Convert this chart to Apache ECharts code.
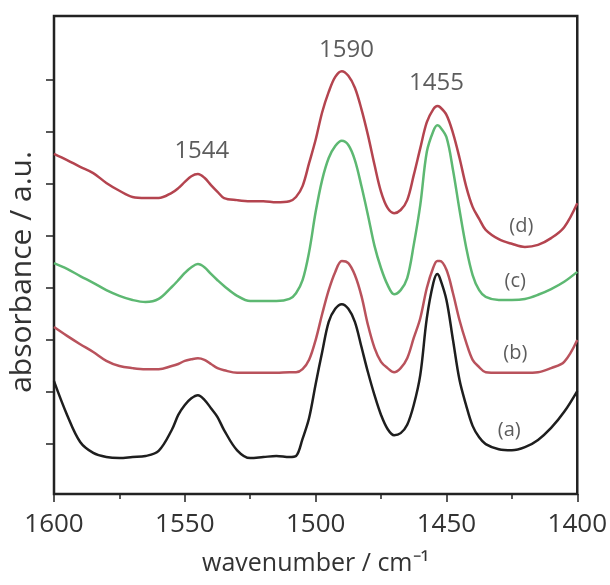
<!DOCTYPE html>
<html>
<head>
<meta charset="utf-8">
<script src="https://cdn.jsdelivr.net/npm/echarts@6/dist/echarts.min.js"></script>
<style>
html,body{margin:0;padding:0;background:#fff;}
#chart{width:610px;height:585px;}
</style>
</head>
<body>
<div id="chart"></div>
<script>
const wavenumbers = [1600,1595,1590,1585,1580,1575,1570,1565,1560,1555,1552.5,1550,1547.5,1545,1542.5,1540,1537.5,1535,1530,1525,1520,1515,1510,1507.5,1505,1502.5,1500,1497.5,1495,1492.5,1490,1487.5,1485,1482.5,1480,1477.5,1475,1472.5,1470,1467.5,1465,1462.5,1460,1457.5,1455,1453.5,1452.5,1450,1447.5,1445,1442.5,1440,1437.5,1435,1430,1425,1420,1415,1410,1405,1400];

const curveA = [1.21,0.56,0.04,-0.17,-0.25,-0.27,-0.25,-0.23,-0.13,0.27,0.56,0.75,0.88,0.94,0.85,0.69,0.52,0.27,-0.12,-0.27,-0.25,-0.23,-0.25,-0.23,0.10,0.50,1.15,1.77,2.35,2.60,2.69,2.60,2.35,1.87,1.38,0.94,0.56,0.29,0.17,0.21,0.37,0.75,1.33,2.42,3.10,3.27,3.19,2.77,2.00,1.23,0.75,0.35,0.13,0.00,-0.10,-0.12,-0.06,0.08,0.31,0.62,1.02];

const curveB = [2.25,2.08,1.92,1.77,1.60,1.50,1.46,1.44,1.44,1.50,1.54,1.60,1.63,1.65,1.62,1.54,1.46,1.42,1.37,1.37,1.37,1.37,1.38,1.38,1.44,1.62,2.00,2.50,2.96,3.31,3.52,3.48,3.25,2.85,2.29,1.85,1.58,1.46,1.38,1.46,1.65,2.04,2.42,3.00,3.40,3.52,3.52,3.35,2.90,2.38,1.96,1.62,1.48,1.38,1.37,1.37,1.37,1.38,1.46,1.58,2.00];

const curveC = [3.48,3.37,3.23,3.10,2.96,2.85,2.77,2.73,2.79,3.02,3.15,3.29,3.40,3.46,3.40,3.27,3.15,3.04,2.85,2.75,2.75,2.75,2.79,2.90,3.15,3.69,4.46,5.08,5.50,5.73,5.83,5.75,5.46,4.96,4.40,3.81,3.38,3.06,2.88,2.96,3.19,3.83,4.60,5.62,6.02,6.13,6.10,5.90,5.27,4.50,3.79,3.25,2.96,2.83,2.77,2.77,2.79,2.87,2.98,3.12,3.31];

const curveD = [5.58,5.46,5.33,5.21,5.02,4.87,4.75,4.73,4.73,4.83,4.92,5.04,5.15,5.19,5.12,4.98,4.85,4.73,4.69,4.67,4.67,4.65,4.67,4.75,4.96,5.40,5.85,6.38,6.77,7.06,7.17,7.08,6.85,6.44,5.94,5.37,4.85,4.54,4.44,4.50,4.69,5.17,5.69,6.19,6.44,6.50,6.48,6.33,5.98,5.50,4.96,4.56,4.33,4.12,3.94,3.85,3.79,3.83,3.96,4.17,4.63];

const xTickLabels = [1600,1550,1500,1450,1400];
const yTickValues = [0,1,2,3,4,5,6,7];

const peakLabels = [
  [1543.5, 5.63, '1544'],
  [1488.2, 7.58, '1590'],
  [1453.8, 6.94, '1455']
];
const curveLabels = [
  [1421.4, 4.19, '(d)'],
  [1423.7, 3.13, '(c)'],
  [1423.7, 1.75, '(b)'],
  [1426.0, 0.27, '(a)']
];

const colors = { a: '#1e1e1e', b: '#b9525c', c: '#5db872', d: '#b4444f' };
const FONT = 'Open Sans';

function pairs(vals) { return wavenumbers.map((w, i) => [w, vals[i]]); }

function lineSeries(name, vals, color) {
  return {
    name: name, type: 'line', data: pairs(vals), showSymbol: false, symbol: 'none',
    smooth: 0.35, lineStyle: { color: color, width: 2.5 }, z: 3
  };
}

function textSeries(name, rows, size) {
  return {
    name: name, type: 'scatter', data: rows, symbolSize: 0, silent: true, z: 5,
    label: { show: true, position: 'inside', formatter: p => p.data[2], fontSize: size, color: '#333', fontFamily: FONT }
  };
}

const chart = echarts.init(document.getElementById('chart'), null, { renderer: 'canvas' });
chart.setOption({
  animation: false,
  backgroundColor: '#ffffff',
  grid: { left: 54, right: 32, top: 16, bottom: 91, show: true, borderColor: '#222', borderWidth: 2.5, containLabel: false },
  xAxis: {
    type: 'value', min: 1400, max: 1600, interval: 50, inverse: true,
    name: 'wavenumber / cm\u207B\u00B9', nameLocation: 'middle', nameGap: 57,
    nameTextStyle: { fontSize: 25, color: '#333', fontFamily: FONT },
    axisLine: { show: true, onZero: false, lineStyle: { color: '#222', width: 2 } },
    axisTick: { show: true, inside: false, length: 8, lineStyle: { color: '#222', width: 1.5 } },
    minorTick: { show: true, splitNumber: 2, length: 5, lineStyle: { color: '#222', width: 1.5 } },
    axisLabel: { show: true, margin: 18, fontSize: 26, color: '#333', fontFamily: FONT,
      formatter: function (v) { return xTickLabels.indexOf(v) >= 0 ? String(v) : ''; } },
    splitLine: { show: false }
  },
  yAxis: {
    type: 'value', min: -0.96, max: 8.23,
    axisLine: { show: true, onZero: false, lineStyle: { color: '#222', width: 2 } },
    axisTick: { show: true, inside: false, length: 8, customValues: yTickValues, lineStyle: { color: '#222', width: 1.5 } },
    axisLabel: { show: false },
    splitLine: { show: false }
  },
  graphic: [{
    type: 'text', x: 22, y: 272, rotation: Math.PI / 2,
    style: { text: 'absorbance / a.u.', fontSize: 30, fill: '#333', fontFamily: FONT, align: 'center', verticalAlign: 'middle' }
  }],
  series: [
    lineSeries('(a)', curveA, colors.a),
    lineSeries('(b)', curveB, colors.b),
    lineSeries('(c)', curveC, colors.c),
    lineSeries('(d)', curveD, colors.d),
    textSeries('peaks', peakLabels, 24),
    textSeries('curveNames', curveLabels, 20)
  ]
});
</script>
</body>
</html>
